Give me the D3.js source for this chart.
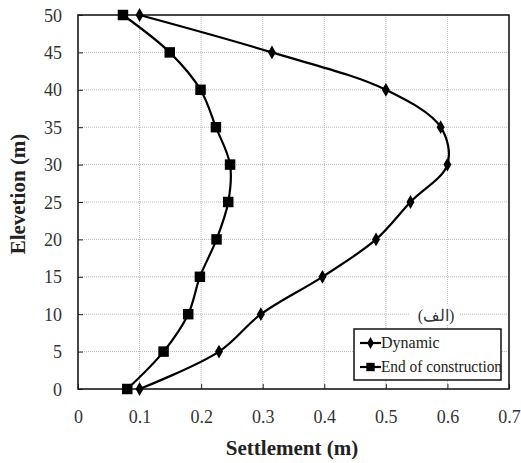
<!DOCTYPE html>
<html>
<head>
<meta charset="utf-8">
<script src="https://cdn.jsdelivr.net/npm/d3@7"></script>
<style>
  html, body { margin: 0; padding: 0; background: #fff; }
  svg { display: block; }
</style>
</head>
<body>
<svg id="chart" width="521" height="463"></svg>
<script>
// Settlement profile along the dam height
const elevations = [0, 5, 10, 15, 20, 25, 30, 35, 40, 45, 50];
const dynamicSettlement = [0.100, 0.229, 0.297, 0.397, 0.484, 0.540, 0.600, 0.589, 0.500, 0.315, 0.100];
const endOfConstruction = [0.080, 0.139, 0.179, 0.198, 0.225, 0.244, 0.247, 0.224, 0.199, 0.149, 0.073];
const seriesNames = ["Dynamic", "End of construction"];
const xTicks = [0, 0.1, 0.2, 0.3, 0.4, 0.5, 0.6, 0.7];
const yTicks = [0, 5, 10, 15, 20, 25, 30, 35, 40, 45, 50];
const panelLabel = "(الف)";

const SERIF = '"Liberation Serif"';
const svg = d3.select("#chart");
const plot = { left: 78, right: 509, top: 15, bottom: 389 };

const x = d3.scaleLinear().domain([0, 0.7]).range([plot.left, plot.right]);
const y = d3.scaleLinear().domain([0, 50]).range([plot.bottom, plot.top]);

// grid
const grid = svg.append("g");
grid.selectAll("line.gx").data(xTicks.slice(1, -1)).join("line")
  .attr("x1", d => x(d)).attr("x2", d => x(d))
  .attr("y1", plot.top).attr("y2", plot.bottom)
  .attr("stroke", "#b8b8b8").attr("stroke-width", 1).attr("stroke-dasharray", "1,1");
grid.selectAll("line.gy").data(yTicks.slice(1, -1)).join("line")
  .attr("y1", d => y(d)).attr("y2", d => y(d))
  .attr("x1", plot.left).attr("x2", plot.right)
  .attr("stroke", "#b8b8b8").attr("stroke-width", 1).attr("stroke-dasharray", "1,1");

// axes with inward ticks
const xAxis = d3.axisBottom(x).tickValues(xTicks).tickSizeInner(-5).tickSizeOuter(0)
  .tickFormat(d => d === 0 ? "0" : d3.format(".1f")(d)).tickPadding(21);
const gx = svg.append("g").attr("transform", `translate(0,${plot.bottom})`).call(xAxis);
const yAxis = d3.axisLeft(y).tickValues(yTicks).tickSizeInner(-5).tickSizeOuter(0).tickPadding(16);
const gy = svg.append("g").attr("transform", `translate(${plot.left},0)`).call(yAxis);
[gx, gy].forEach(g => {
  g.attr("font-family", null).attr("font-size", null);
  g.select(".domain").remove();
  g.selectAll(".tick line").attr("stroke", "#222").attr("stroke-width", 1);
  g.selectAll(".tick text").style("font-family", SERIF)
    .style("font-size", "18px").attr("fill", "#333");
});
gy.selectAll(".tick text").attr("dy", "0.34em");

// plot border
svg.append("rect").attr("x", plot.left).attr("y", plot.top)
  .attr("width", plot.right - plot.left).attr("height", plot.bottom - plot.top)
  .attr("fill", "none").attr("stroke", "#1a1a1a").attr("stroke-width", 1.6);

// panel label with a white backing
svg.append("rect").attr("x", 409).attr("y", 305).attr("width", 50).attr("height", 20).attr("fill", "#fff");
svg.append("text").attr("x", 436).attr("y", 315).attr("dy", "0.35em")
  .attr("text-anchor", "middle").attr("fill", "#333")
  .style("font-family", SERIF).style("font-size", "16px")
  .text(panelLabel);

// curves
const line = d3.line().curve(d3.curveCatmullRom.alpha(0.5));
const dynPts = elevations.map((e, i) => [x(dynamicSettlement[i]), y(e)]);
const eocPts = elevations.map((e, i) => [x(endOfConstruction[i]), y(e)]);

svg.append("path").attr("d", line(eocPts)).attr("fill", "none")
  .attr("stroke", "#000").attr("stroke-width", 2.2);
svg.append("path").attr("d", line(dynPts)).attr("fill", "none")
  .attr("stroke", "#000").attr("stroke-width", 2.2);

const diamond = d3.symbol().type(d3.symbolDiamond).size(55);
const square = d3.symbol().type(d3.symbolSquare).size(110);

svg.append("g").selectAll("path").data(eocPts).join("path")
  .attr("transform", d => `translate(${d[0]},${d[1]})`).attr("d", square).attr("fill", "#000");
svg.append("g").selectAll("path").data(dynPts).join("path")
  .attr("transform", d => `translate(${d[0]},${d[1]})`).attr("d", diamond).attr("fill", "#000");

// legend
const lg = svg.append("g");
lg.append("rect").attr("x", 354).attr("y", 329).attr("width", 147).attr("height", 51)
  .attr("fill", "#fff").attr("stroke", "#111").attr("stroke-width", 1.5);
const rows = [
  { name: seriesNames[0], sym: d3.symbol().type(d3.symbolDiamond).size(40), y: 343, fit: null },
  { name: seriesNames[1], sym: d3.symbol().type(d3.symbolSquare).size(70), y: 367, fit: 121 }
];
rows.forEach(r => {
  lg.append("line").attr("x1", 360).attr("x2", 381).attr("y1", r.y).attr("y2", r.y)
    .attr("stroke", "#000").attr("stroke-width", 2.2);
  lg.append("path").attr("transform", `translate(370.5,${r.y})`).attr("d", r.sym).attr("fill", "#000");
  const t = lg.append("text").attr("x", 381).attr("y", r.y).attr("dy", "0.33em")
    .style("font-family", SERIF).style("font-size", "16px").attr("fill", "#222").text(r.name);
  if (r.fit) t.attr("textLength", r.fit).attr("lengthAdjust", "spacingAndGlyphs");
});

// axis titles
svg.append("text").attr("x", 292).attr("y", 448).attr("dy", "0.35em")
  .attr("text-anchor", "middle").attr("fill", "#222")
  .style("font-family", SERIF).style("font-size", "21px").style("font-weight", "bold")
  .text("Settlement (m)");
svg.append("text").attr("transform", "translate(18,194) rotate(-90)").attr("dy", "0.35em")
  .attr("text-anchor", "middle").attr("fill", "#222")
  .style("font-family", SERIF).style("font-size", "21px").style("font-weight", "bold")
  .text("Elevetion (m)");
</script>
</body>
</html>
